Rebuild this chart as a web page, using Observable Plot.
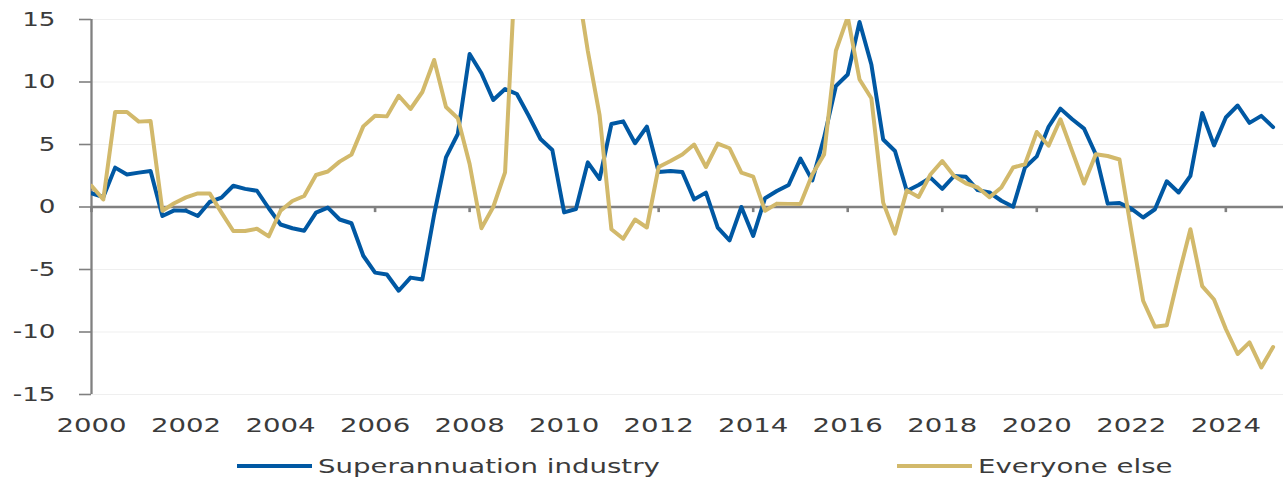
<!DOCTYPE html>
<html>
<head>
<meta charset="utf-8">
<script src="https://cdn.jsdelivr.net/npm/d3@7"></script>
<script src="https://cdn.jsdelivr.net/npm/@observablehq/plot@0.6"></script>
<style>
  body { margin: 0; background: #fff; }
  #chart { width: 1283px; }
  .legend { position: relative; width: 1283px; height: 40px; font-family: "DejaVu Sans", sans-serif; font-size: 20px; color: #3b3b3b; }
  .legend .sw { position: absolute; height: 4px; width: 75px; top: 24px; }
  .legend .lb { position: absolute; top: 14px; line-height: 24px; white-space: nowrap; transform: scaleX(1.38); transform-origin: left center; }
</style>
</head>
<body>
<div id="chart"></div>
<script>
// Quarterly periods, 2000 Q1 .. 2025 Q1
const startYear = 2000;
const quarterCount = 101;
const periods = Array.from({length: quarterCount}, (_, i) => startYear + i / 4);

const seriesNames = ["Superannuation industry", "Everyone else"];
const seriesColors = ["#0058A3", "#D2B96B"];

const superannuation = [
  1.1, 0.8, 3.15, 2.6, 2.75, 2.88, -0.72, -0.27, -0.3, -0.72,
  0.4, 0.75, 1.7, 1.45, 1.3, -0.1, -1.4, -1.7, -1.9, -0.45,
  -0.05, -1.0, -1.3, -3.9, -5.25, -5.4, -6.7, -5.65, -5.8, -0.6,
  3.97, 5.84, 12.24, 10.7, 8.56, 9.44, 9.04, 7.3, 5.44, 4.56,
  -0.43, -0.16, 3.57, 2.24, 6.64, 6.85, 5.1, 6.43, 2.8, 2.88,
  2.8, 0.61, 1.15, -1.65, -2.67, 0.0, -2.32, 0.7, 1.28, 1.76,
  3.87, 2.13, 5.55, 9.68, 10.6, 14.8, 11.4, 5.4, 4.48, 1.28,
  1.76, 2.35, 1.45, 2.48, 2.42, 1.35, 1.16, 0.5, 0.02, 3.16,
  4.05, 6.42, 7.87, 7.02, 6.27, 4.2, 0.27, 0.32, -0.13, -0.84,
  -0.18, 2.06, 1.16, 2.49, 7.52, 4.93, 7.16, 8.12, 6.73, 7.29,
  6.39
];

const everyoneElse = [
  1.7, 0.6, 7.6, 7.6, 6.83, 6.88, -0.3, 0.3, 0.77, 1.09,
  1.09, -0.45, -1.92, -1.92, -1.74, -2.35, -0.3, 0.48, 0.88, 2.56,
  2.84, 3.63, 4.19, 6.45, 7.3, 7.25, 8.9, 7.84, 9.2, 11.76,
  8.0, 7.1, 3.44, -1.7, 0.0, 2.77, 21.6, 27, 30, 28,
  24, 18.5, 12.5, 7.35, -1.78, -2.54, -1.0, -1.64, 3.2, 3.68,
  4.2, 5.0, 3.2, 5.07, 4.7, 2.75, 2.43, -0.3, 0.27, 0.25,
  0.25, 2.6, 4.2, 12.5, 15.2, 10.2, 8.7, 0.35, -2.13, 1.33,
  0.8, 2.6, 3.68, 2.48, 1.9, 1.56, 0.78, 1.56, 3.16, 3.42,
  6.0, 4.9, 7.02, 4.45, 1.88, 4.22, 4.08, 3.8, -1.9, -7.5,
  -9.58, -9.46, -5.5, -1.78, -6.33, -7.4, -9.76, -11.76, -10.83, -12.83,
  -11.2
];

const yTicks = [-15, -10, -5, 0, 5, 10, 15];
const xTicks = [2000, 2002, 2004, 2006, 2008, 2010, 2012, 2014, 2016, 2018, 2020, 2022, 2024];

const table = [];
[superannuation, everyoneElse].forEach((vals, s) => {
  vals.forEach((v, i) => table.push({period: periods[i], value: v, series: seriesNames[s]}));
});

const axisGray = "#808080";
const stretch = 1.38;

const chart = Plot.plot({
  width: 1283,
  height: 440,
  marginLeft: 91,
  marginRight: 0,
  marginTop: 19,
  marginBottom: 46,
  style: {fontFamily: "DejaVu Sans, sans-serif", color: "#3b3b3b", background: "#fff"},
  x: {type: "linear", domain: [2000, 2025.22]},
  y: {domain: [-15, 15]},
  marks: [
    Plot.ruleY(yTicks.filter(d => d !== 0), {stroke: "#efefef", strokeWidth: 1}),
    Plot.axisY({ticks: yTicks, tickSize: 12, tickPadding: 24, tickFormat: d => String(d), label: null,
      stroke: axisGray, strokeWidth: 1.6, strokeOpacity: 1, fontSize: 19}),
    Plot.ruleX([2000], {stroke: axisGray, strokeWidth: 2.3}),
    Plot.ruleY([0], {stroke: axisGray, strokeWidth: 2.7}),
    Plot.ruleX(xTicks, {y1: 0, y2: -0.45, stroke: axisGray, strokeWidth: 2.6}),
    Plot.axisX({ticks: xTicks, tickSize: 0, tickPadding: 23, tickFormat: d => String(d), label: null, fontSize: 20}),
    Plot.line(table.filter(d => d.series === seriesNames[0]), {x: "period", y: "value", stroke: seriesColors[0], strokeWidth: 4, strokeLinejoin: "round", clip: true}),
    Plot.line(table.filter(d => d.series === seriesNames[1]), {x: "period", y: "value", stroke: seriesColors[1], strokeWidth: 4, strokeLinejoin: "round", clip: true})
  ]
});

// widen tick labels horizontally to match the reference's stretched type
chart.querySelectorAll('g[aria-label="x-axis tick label"] text, g[aria-label="y-axis tick label"] text').forEach(t => {
  const tr = t.getAttribute("transform") || "";
  t.setAttribute("transform", tr + ` scale(${stretch},1)`);
});

document.getElementById("chart").appendChild(chart);

// legend
const legend = document.createElement("div");
legend.className = "legend";
const legendPos = [{sw: 237, lb: 318}, {sw: 897, lb: 978}];
seriesNames.forEach((name, i) => {
  const sw = document.createElement("div");
  sw.className = "sw";
  sw.style.left = legendPos[i].sw + "px";
  sw.style.background = seriesColors[i];
  const lb = document.createElement("div");
  lb.className = "lb";
  lb.style.left = legendPos[i].lb + "px";
  lb.textContent = name;
  legend.appendChild(sw);
  legend.appendChild(lb);
});
document.body.appendChild(legend);
</script>
</body>
</html>
